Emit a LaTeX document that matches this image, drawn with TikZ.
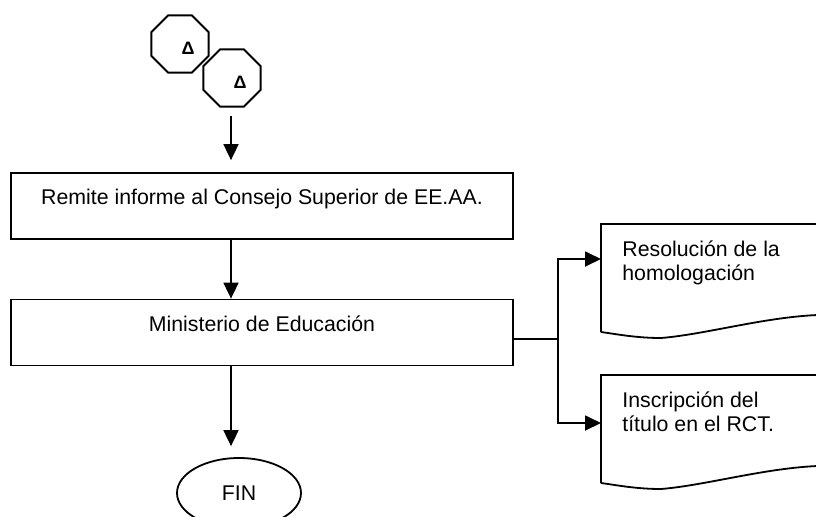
\documentclass[tikz,border=0pt]{standalone}
\usepackage{fontspec}
\setmainfont{Liberation Sans}
\usetikzlibrary{arrows.meta,shapes.geometric}

\tikzset{
    linea/.style={line width=0.9pt},
    flecha/.style={linea, -{Triangle[width=7.5pt,length=8pt]}},
    caja/.style={linea, draw, rectangle, minimum width=251pt, minimum height=33pt,
        text height=8pt, text depth=9.5pt, inner sep=0pt},
    conector/.style={linea, draw, fill=white, regular polygon, regular polygon sides=8,
        minimum size=31pt, inner sep=0pt},
    delta/.style={font=\bfseries\fontsize{9}{10}\selectfont, xshift=4pt, yshift=-2pt},
    terminal/.style={linea, draw, ellipse, minimum width=62pt, minimum height=35pt, inner sep=0pt},
    doctexto/.style={anchor=north west, align=left, inner xsep=10.5pt, inner ysep=8.2pt},
}

% documento con borde inferior ondulado
\newcommand{\documento}[1]{
    \draw[linea, shift={(#1.north west)}] (0,108) -- (0,0) -- (240,0) -- (240,91)
        .. controls (180,88) and (110,110) .. (60,114)
        .. controls (35,114) and (15,110) .. (0,108);
}

\begin{document}
\begin{tikzpicture}[x=0.5pt, y=-0.5pt, font=\fontsize{10.65}{12.2}\selectfont]
    \clip (0,0) rectangle (816,516);

    \coordinate (eje) at (231,0);

    \node[conector, label={[delta]center:Δ}] (conector1) at (180,44) {};
    \node[conector, label={[delta]center:Δ}] (conector2) at (232,78) {};

    \node[caja] (remite) at (262,206) {Remite informe al Consejo Superior de EE.AA.};
    \node[caja] (ministerio) at (262,332.5) {Ministerio de Educación};
    \node[terminal] (fin) at (239,493) {FIN};

    \node[doctexto] (resol) at (601,224) {Resolución de la\\homologación};
    \node[doctexto] (inscr) at (601,375) {Inscripción del\\título en el RCT.};
    \documento{resol}
    \documento{inscr}

    \draw[flecha, shorten <=4.3pt, shorten >=6pt] (conector2.south -| eje) -- (remite.north -| eje);
    \draw[flecha] (remite.south -| eje) -- (ministerio.north -| eje);
    \draw[flecha, shorten >=5.5pt] (ministerio.south -| eje) -- (fin.north -| eje);

    % bifurcacion hacia los documentos
    \coordinate (rama) at (558,339);
    \coordinate (entrada1) at (601,259);
    \coordinate (entrada2) at (601,423);
    \draw[linea] (ministerio.east |- rama) -- (rama);
    \draw[flecha] (rama) |- (entrada1);
    \draw[flecha] (rama) |- (entrada2);
\end{tikzpicture}
\end{document}
